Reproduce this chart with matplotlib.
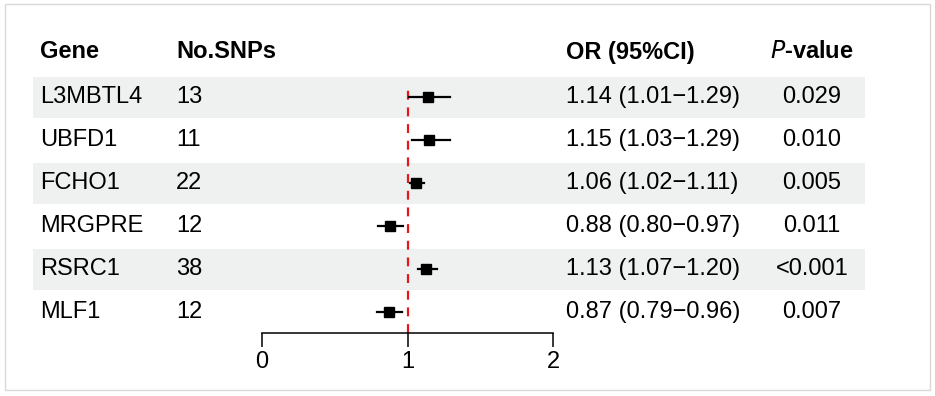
import matplotlib.pyplot as plt
from matplotlib.patches import Rectangle

plt.rcParams["font.family"] = ["Liberation Sans", "DejaVu Sans"]

genes = ["L3MBTL4", "UBFD1", "FCHO1", "MRGPRE", "RSRC1", "MLF1"]
n_snps = [13, 11, 22, 12, 38, 12]
odds = [1.14, 1.15, 1.06, 0.88, 1.13, 0.87]
ci_low = [1.01, 1.03, 1.02, 0.80, 1.07, 0.79]
ci_high = [1.29, 1.29, 1.11, 0.97, 1.20, 0.96]
p_values = ["0.029", "0.010", "0.005", "0.011", "<0.001", "0.007"]
x_ticks = [0, 1, 2]

W, H = 935, 396
fig = plt.figure(figsize=(W / 100, H / 100), dpi=100)

# background axes in pixel coords, for the table part
bg = fig.add_axes([0, 0, 1, 1])
bg.set_xlim(0, W)
bg.set_ylim(H, 0)
bg.axis("off")

row0, step = 97, 43
fs = 17

# outer frame
bg.add_patch(Rectangle((5, 4), 925, 386, fill=False, ec="#d9d9d9", lw=1))

# header
bg.text(40, 52, "Gene", fontsize=fs, fontweight="bold", va="center")
bg.text(176, 52, "No.SNPs", fontsize=fs, fontweight="bold", va="center")
bg.text(566, 52, "OR (95%CI)", fontsize=fs, fontweight="bold", va="center")
bg.text(812, 52, r"$\bf{\it{P}}$-value", fontsize=fs, fontweight="bold",
        va="center", ha="center")

for i, g in enumerate(genes):
    y = row0 + step * i
    if i % 2 == 0:
        bg.add_patch(Rectangle((33, y - 20.5), 832, 41, fc="#eff1f1", ec="none"))
    bg.text(40, y, g, fontsize=fs, va="center")
    bg.text(176, y, str(n_snps[i]), fontsize=fs, va="center")
    bg.text(566, y, f"{odds[i]:.2f} ({ci_low[i]:.2f}\u2212{ci_high[i]:.2f})",
            fontsize=fs, va="center")
    bg.text(812, y, p_values[i], fontsize=fs, va="center", ha="center")

# forest axes: x=0 at 262px, x=2 at 553px, top at 88px, axis line at 333px
top_px, bot_px = 88, 333
ax = fig.add_axes([262 / W, (H - bot_px) / H, (553 - 262) / W, (bot_px - top_px) / H])
ax.patch.set_alpha(0)
ax.set_xlim(0, 2)
ax.set_ylim((bot_px - row0) / step, (top_px - row0) / step)

ax.axvline(1, color="#e8161b", lw=1.6, ls=(0, (4, 3.5)), zorder=1)
rows = list(range(len(genes)))
for i in rows:
    ax.plot([ci_low[i], ci_high[i]], [i, i], color="black", lw=1.6, zorder=2)
ax.plot(odds, rows, ls="none", marker="s", ms=6.5, color="black", zorder=3)

for s in ["top", "left", "right"]:
    ax.spines[s].set_visible(False)
ax.spines["bottom"].set_linewidth(1.1)
ax.set_yticks([])
ax.set_xticks(x_ticks)
ax.set_xticklabels([str(t) for t in x_ticks], fontsize=fs)
ax.tick_params(axis="x", direction="out", length=10, width=1.1, pad=3)

fig.savefig("out.png", dpi=100)
